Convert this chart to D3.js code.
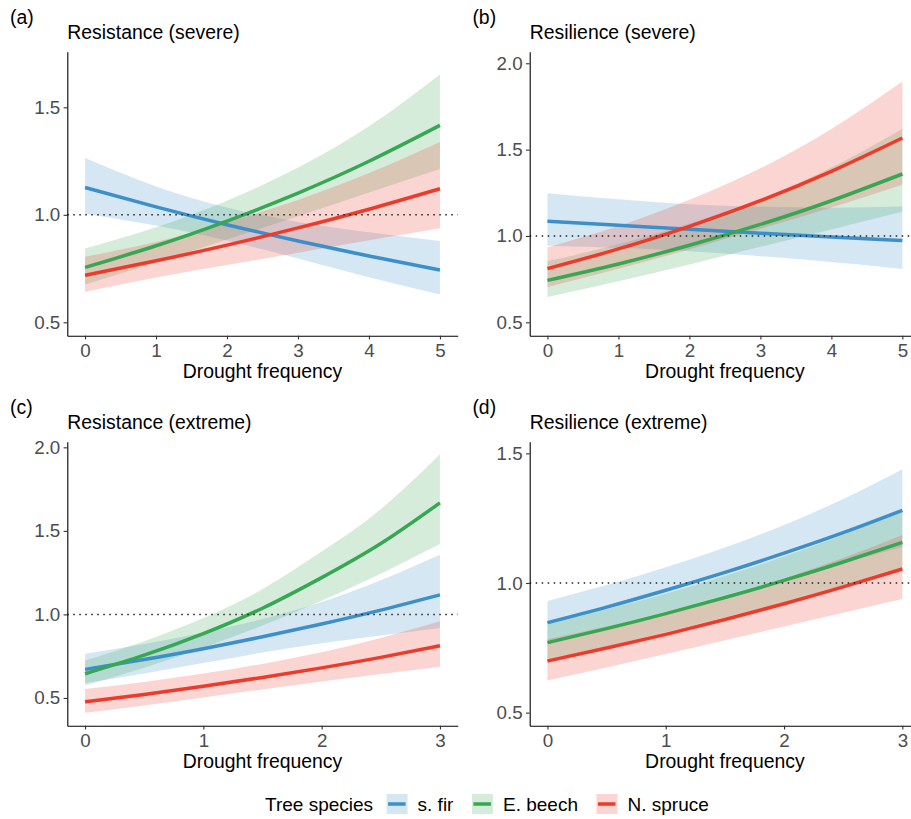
<!DOCTYPE html>
<html>
<head>
<meta charset="utf-8">
<script src="https://cdn.jsdelivr.net/npm/d3@7"></script>
<style>
  body { margin: 0; background: #fff; }
  svg { display: block; font-family: "Liberation Sans", Arial, Helvetica, sans-serif; }
</style>
</head>
<body>
<svg id="fig" width="911" height="819"></svg>
<script>
// ---- data -------------------------------------------------------------
const species = ["s. fir", "E. beech", "N. spruce"];
const speciesColors = ["#3d8fc9", "#37a753", "#ec3a2b"];

// drought-frequency grid for each row of panels
const xSevere = [0, 1, 2, 3, 4, 5];
const xExtreme = [0, 0.5, 1, 1.5, 2, 2.5, 3];

// tick labels
const xTicksSevere = [0, 1, 2, 3, 4, 5];
const xTicksExtreme = [0, 1, 2, 3];
const yTicksA = [0.5, 1.0, 1.5];
const yTicksB = [0.5, 1.0, 1.5, 2.0];
const yTicksC = [0.5, 1.0, 1.5, 2.0];
const yTicksD = [0.5, 1.0, 1.5];

// (a) Resistance (severe): fitted value, lower and upper bound
const aFirFit    = [1.127, 1.037, 0.954, 0.878, 0.808, 0.743];
const aFirLo     = [1.005, 0.950, 0.880, 0.797, 0.710, 0.629];
const aFirHi     = [1.264, 1.132, 1.034, 0.967, 0.919, 0.878];
const aBeechFit  = [0.755, 0.856, 0.971, 1.101, 1.249, 1.416];
const aBeechLo   = [0.676, 0.778, 0.885, 0.993, 1.104, 1.213];
const aBeechHi   = [0.843, 0.942, 1.065, 1.220, 1.412, 1.653];
const aSpruceFit = [0.719, 0.786, 0.859, 0.939, 1.026, 1.121];
const aSpruceLo  = [0.642, 0.708, 0.766, 0.824, 0.882, 0.938];
const aSpruceHi  = [0.805, 0.873, 0.964, 1.069, 1.194, 1.339];

// (b) Resilience (severe)
const bFirFit    = [1.085, 1.062, 1.039, 1.016, 0.994, 0.973];
const bFirLo     = [0.943, 0.931, 0.912, 0.883, 0.849, 0.809];
const bFirHi     = [1.248, 1.212, 1.183, 1.169, 1.164, 1.171];
const bBeechFit  = [0.743, 0.838, 0.946, 1.067, 1.204, 1.359];
const bBeechLo   = [0.647, 0.737, 0.835, 0.937, 1.038, 1.140];
const bBeechHi   = [0.853, 0.952, 1.072, 1.215, 1.396, 1.620];
const bSpruceFit = [0.811, 0.925, 1.056, 1.204, 1.374, 1.567];
const bSpruceLo  = [0.705, 0.810, 0.923, 1.042, 1.165, 1.296];
const bSpruceHi  = [0.933, 1.057, 1.209, 1.392, 1.620, 1.895];

// (c) Resistance (extreme)
const cFirFit    = [0.671, 0.730, 0.795, 0.866, 0.943, 1.026, 1.117];
const cFirLo     = [0.589, 0.647, 0.709, 0.772, 0.828, 0.874, 0.919];
const cFirHi     = [0.764, 0.823, 0.892, 0.972, 1.074, 1.204, 1.357];
const cBeechFit  = [0.645, 0.756, 0.885, 1.037, 1.220, 1.424, 1.668];
const cBeechLo   = [0.575, 0.681, 0.801, 0.934, 1.082, 1.244, 1.421];
const cBeechHi   = [0.724, 0.840, 0.978, 1.152, 1.376, 1.630, 1.958];
const cSpruceFit = [0.477, 0.521, 0.570, 0.623, 0.680, 0.743, 0.812];
const cSpruceLo  = [0.412, 0.455, 0.503, 0.551, 0.598, 0.643, 0.687];
const cSpruceHi  = [0.553, 0.596, 0.646, 0.704, 0.773, 0.859, 0.959];

// (d) Resilience (extreme)
const dFirFit    = [0.847, 0.907, 0.972, 1.041, 1.115, 1.194, 1.280];
const dFirLo     = [0.770, 0.829, 0.890, 0.953, 1.016, 1.077, 1.139];
const dFirHi     = [0.931, 0.992, 1.061, 1.137, 1.224, 1.324, 1.439];
const dBeechFit  = [0.770, 0.824, 0.882, 0.944, 1.010, 1.081, 1.157];
const dBeechLo   = [0.700, 0.755, 0.811, 0.868, 0.926, 0.985, 1.047];
const dBeechHi   = [0.847, 0.900, 0.959, 1.027, 1.102, 1.186, 1.279];
const dSpruceFit = [0.699, 0.749, 0.802, 0.859, 0.920, 0.985, 1.054];
const dSpruceLo  = [0.624, 0.674, 0.726, 0.779, 0.832, 0.885, 0.938];
const dSpruceHi  = [0.783, 0.832, 0.886, 0.948, 1.017, 1.096, 1.185];

// ---- panel set-up -----------------------------------------------------
const panels = [
  { tag: "(a)", title: "Resistance (severe)", left: 67.3, top: 51.7,
    xs: xSevere, xTicks: xTicksSevere, xDomain: [-0.25, 5.25],
    yTicks: yTicksA, yDomain: [0.4377, 1.7586],
    fit: [aFirFit, aBeechFit, aSpruceFit], lo: [aFirLo, aBeechLo, aSpruceLo], hi: [aFirHi, aBeechHi, aSpruceHi] },
  { tag: "(b)", title: "Resilience (severe)", left: 529.7, top: 51.7,
    xs: xSevere, xTicks: xTicksSevere, xDomain: [-0.25, 5.25],
    yTicks: yTicksB, yDomain: [0.4224, 2.067],
    fit: [bFirFit, bBeechFit, bSpruceFit], lo: [bFirLo, bBeechLo, bSpruceLo], hi: [bFirHi, bBeechHi, bSpruceHi] },
  { tag: "(c)", title: "Resistance (extreme)", left: 67.3, top: 441.7,
    xs: xExtreme, xTicks: xTicksExtreme, xDomain: [-0.15, 3.15],
    yTicks: yTicksC, yDomain: [0.334, 2.0337],
    fit: [cFirFit, cBeechFit, cSpruceFit], lo: [cFirLo, cBeechLo, cSpruceLo], hi: [cFirHi, cBeechHi, cSpruceHi] },
  { tag: "(d)", title: "Resilience (extreme)", left: 529.7, top: 441.7,
    xs: xExtreme, xTicks: xTicksExtreme, xDomain: [-0.15, 3.15],
    yTicks: yTicksD, yDomain: [0.4496, 1.545],
    fit: [dFirFit, dBeechFit, dSpruceFit], lo: [dFirLo, dBeechLo, dSpruceLo], hi: [dFirHi, dBeechHi, dSpruceHi] }
];

const panelW = 390.4, panelH = 284;
const svg = d3.select("#fig");
const fmtY = d3.format(".1f");
const fmtX = d3.format("d");

panels.forEach(p => {
  const g = svg.append("g").attr("transform", `translate(${p.left},${p.top})`);
  const x = d3.scaleLinear().domain(p.xDomain).range([0, panelW]);
  const y = d3.scaleLinear().domain(p.yDomain).range([panelH, 0]);

  // confidence ribbons
  species.forEach((s, i) => {
    const rows = p.xs.map((xv, k) => ({ x: xv, lo: p.lo[i][k], hi: p.hi[i][k] }));
    g.append("path")
      .datum(rows)
      .attr("fill", speciesColors[i])
      .attr("fill-opacity", 0.21)
      .attr("d", d3.area().curve(d3.curveNatural)
        .x(d => x(d.x)).y0(d => y(d.lo)).y1(d => y(d.hi)));
  });

  // fitted lines
  species.forEach((s, i) => {
    const rows = p.xs.map((xv, k) => ({ x: xv, v: p.fit[i][k] }));
    g.append("path")
      .datum(rows)
      .attr("fill", "none")
      .attr("stroke", speciesColors[i])
      .attr("stroke-width", 3.5)
      .attr("d", d3.line().curve(d3.curveNatural).x(d => x(d.x)).y(d => y(d.v)));
  });

  // reference line at 1
  g.append("line")
    .attr("x1", 0).attr("x2", panelW)
    .attr("y1", y(1)).attr("y2", y(1))
    .attr("stroke", "#222").attr("stroke-width", 1.5)
    .attr("stroke-dasharray", "1.5,4.5");

  // axes
  const yAxis = g.append("g")
    .call(d3.axisLeft(y).tickValues(p.yTicks).tickFormat(fmtY)
      .tickSize(3.7).tickSizeOuter(0).tickPadding(3.3));
  const xAxis = g.append("g").attr("transform", `translate(0,${panelH})`)
    .call(d3.axisBottom(x).tickValues(p.xTicks).tickFormat(fmtX)
      .tickSize(3.7).tickSizeOuter(0).tickPadding(3.9));
  [yAxis, xAxis].forEach(a => {
    a.select(".domain").attr("stroke", "#000").attr("stroke-width", 1.1);
    a.selectAll(".tick line").attr("stroke", "#333").attr("stroke-width", 1.1);
    a.selectAll(".tick text").attr("fill", "#4d4d4d")
      .style("font-size", "18.8px").style("font-family", "Liberation Sans, Arial, sans-serif");
  });

  // titles
  g.append("text").attr("x", -57.3).attr("y", -28.2)
    .style("font-size", "19.4px").attr("fill", "#000").text(p.tag);
  g.append("text").attr("x", 0).attr("y", -13.2)
    .style("font-size", "19.4px").attr("fill", "#000").text(p.title);
  g.append("text").attr("x", panelW / 2).attr("y", panelH + 42.3)
    .attr("text-anchor", "middle")
    .style("font-size", "19.4px").attr("fill", "#000").text("Drought frequency");
});

// ---- legend -----------------------------------------------------------
const legend = svg.append("g").attr("transform", "translate(265,811)");
const legTitle = legend.append("text").attr("x", 0).attr("y", 0)
  .style("font-size", "19px").attr("fill", "#000").text("Tree species");
let cursor = legTitle.node().getComputedTextLength() + 13.5;
species.forEach((s, i) => {
  const key = legend.append("g").attr("transform", `translate(${cursor},-17)`);
  key.append("rect").attr("width", 21).attr("height", 20)
    .attr("fill", speciesColors[i]).attr("fill-opacity", 0.21);
  key.append("line").attr("x1", 1.5).attr("x2", 19).attr("y1", 10).attr("y2", 10)
    .attr("stroke", speciesColors[i]).attr("stroke-width", 3.5);
  const t = legend.append("text").attr("x", cursor + 31).attr("y", 0)
    .style("font-size", "19px").attr("fill", "#000").text(s);
  cursor += 31 + t.node().getComputedTextLength() + 18.5;
});
</script>
</body>
</html>
